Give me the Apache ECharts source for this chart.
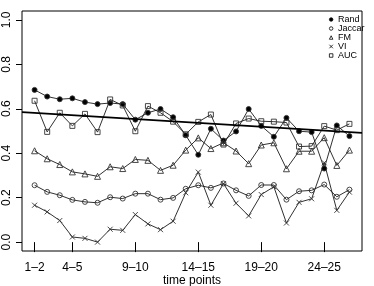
<!DOCTYPE html>
<html><head><meta charset="utf-8">
<script src="https://cdn.jsdelivr.net/npm/echarts@6/dist/echarts.min.js"></script>
<style>html,body{margin:0;padding:0;background:#fff}#c{width:374px;height:286px}</style>
</head><body><div id="c"></div>
<script>
const xIndex = [1,2,3,4,5,6,7,8,9,10,11,12,13,14,15,16,17,18,19,20,21,22,23,24,25,26];
const rand    = [0.685,0.655,0.643,0.647,0.630,0.621,0.626,0.621,0.551,0.582,0.599,0.562,0.481,0.393,0.510,0.457,0.498,0.599,0.523,0.474,0.559,0.499,0.495,0.331,0.525,0.477];
const jaccard = [0.256,0.226,0.211,0.190,0.181,0.177,0.202,0.196,0.218,0.218,0.191,0.199,0.240,0.256,0.244,0.264,0.233,0.208,0.257,0.257,0.191,0.229,0.233,0.259,0.204,0.236];
const fm      = [0.411,0.375,0.349,0.316,0.307,0.296,0.339,0.331,0.372,0.368,0.323,0.346,0.414,0.469,0.421,0.447,0.410,0.353,0.437,0.447,0.330,0.409,0.409,0.470,0.345,0.414];
const vi      = [0.166,0.136,0.097,0.023,0.017,0.000,0.058,0.053,0.124,0.082,0.056,0.094,0.222,0.315,0.166,0.263,0.175,0.118,0.214,0.249,0.086,0.179,0.195,0.357,0.143,0.225];
const auc     = [0.636,0.496,0.582,0.523,0.577,0.495,0.642,0.615,0.499,0.612,0.582,0.542,0.485,0.541,0.574,0.439,0.534,0.556,0.544,0.542,0.538,0.430,0.432,0.522,0.504,0.532];
const trendX = [0, 27];
const trendY = [0.585, 0.492];
const tickPositions = [1,4,9,14,19,24];
const tickLabels = ['1–2','4–5','9–10','14–15','19–20','24–25'];
const yTicks = [0,0.2,0.4,0.6,0.8,1.0];
const seriesNames = ['Rand','Jaccard','FM','VI','AUC'];

const crossPath = 'path://M0,0L10,10M10,0L0,10';
const FONT = 'Liberation Sans, Arial, Helvetica, sans-serif';

function pts(arr){ return arr.map((v,i)=>[xIndex[i], v]); }
function mk(name, data, symbol, size, filled){
  return {
    name, type:'line', data: pts(data), symbol, symbolSize: size, showSymbol:true,
    lineStyle:{color:'#1a1a1a', width:0.9},
    itemStyle:{color: filled ? '#000' : 'rgba(0,0,0,0)', borderColor:'#333', borderWidth:0.9},
    z: 3
  };
}
const hollow = {color:'rgba(0,0,0,0)', borderColor:'#000', borderWidth:0.8};

const chart = echarts.init(document.getElementById('c'), null, {renderer:'canvas'});
chart.setOption({
  animation:false,
  grid:{left:22, right:12, top:11, bottom:35, show:true, borderColor:'#000', borderWidth:1, backgroundColor:'transparent',
        outerBoundsMode:'none', containLabel:false},
  xAxis:{
    type:'value', min:0, max:27,
    axisLine:{show:false},
    splitLine:{show:false},
    axisTick:{show:true, customValues:tickPositions, length:10, lineStyle:{color:'#000', width:1}},
    axisLabel:{show:true, customValues:tickPositions, margin:11, fontSize:12, color:'#000', fontFamily:FONT,
      formatter:(v)=>tickLabels[tickPositions.indexOf(Math.round(v))] || ''},
    name:'time points', nameLocation:'middle', nameGap:24, nameMoveOverlap:false,
    nameTextStyle:{fontSize:12, color:'#000', fontFamily:FONT}
  },
  yAxis:{
    type:'value', min:-0.04, max:1.04,
    axisLine:{show:false},
    splitLine:{show:false},
    axisTick:{show:true, customValues:yTicks, length:6, lineStyle:{color:'#000', width:1}},
    axisLabel:{show:true, customValues:yTicks, rotate:90, margin:9, fontSize:12, color:'#000', fontFamily:FONT,
      formatter:(v)=>v.toFixed(1)}
  },
  legend:{
    orient:'vertical', left:329, top:15, padding:0, itemGap:0, itemWidth:3.5, itemHeight:3.5,
    selectedMode:false,
    textStyle:{fontSize:9, lineHeight:7.2, color:'#000', fontFamily:FONT, width:30, overflow:'truncate', ellipsis:''},
    data:[
      {name:'Rand', icon:'circle', itemStyle:{color:'#000', borderColor:'#000', borderWidth:0.8}},
      {name:'Jaccard', icon:'circle', itemStyle:hollow},
      {name:'FM', icon:'triangle', itemStyle:hollow},
      {name:'VI', icon:crossPath, itemStyle:hollow},
      {name:'AUC', icon:'rect', itemStyle:hollow}
    ]
  },
  series:[
    mk(seriesNames[0], rand, 'circle', 5, true),
    mk(seriesNames[1], jaccard, 'circle', 5, false),
    mk(seriesNames[2], fm, 'triangle', 6, false),
    mk(seriesNames[3], vi, crossPath, 5, false),
    mk(seriesNames[4], auc, 'rect', 5, false),
    {name:'trend', type:'line', data: trendX.map((x,i)=>[x, trendY[i]]), symbol:'none',
      lineStyle:{color:'#000', width:1.8}, z:4, silent:true}
  ]
});
</script></body></html>
